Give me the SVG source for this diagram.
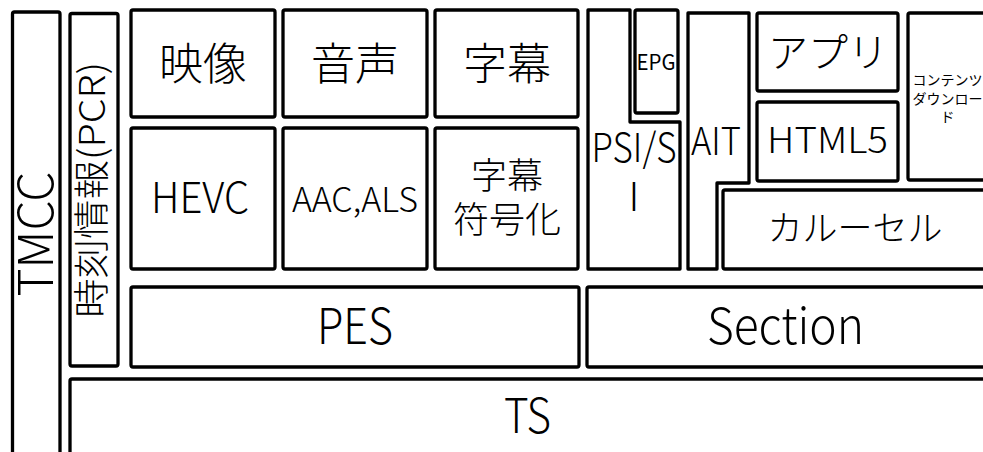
<svg xmlns="http://www.w3.org/2000/svg" width="983" height="452" viewBox="0 0 983 452">
<style>
.b{fill:#fff;stroke:#000;stroke-width:3.3;stroke-linejoin:round}
text{font-family:"Noto Sans CJK JP","Liberation Sans",sans-serif;font-weight:300;fill:#000;text-anchor:middle}
.s{font-weight:400}
</style>
<rect width="983" height="452" fill="#fff"/>
<g id="tmcc"><rect class="b" x="12.5" y="12" width="47.5" height="460" rx="2"/>
<text transform="translate(53,234) rotate(-90)" font-size="48" textLength="125" lengthAdjust="spacingAndGlyphs">TMCC</text></g>
<g id="pcr"><rect class="b" x="70" y="13.5" width="48" height="352.5" rx="2"/>
<text transform="translate(105,190) rotate(-90)" font-size="36" textLength="256" lengthAdjust="spacingAndGlyphs">時刻情報(PCR)</text></g>
<g id="eizo"><rect class="b" x="131" y="10" width="144" height="107" rx="2"/>
<text x="203" y="80" font-size="44">映像</text></g>
<g id="onsei"><rect class="b" x="283" y="10" width="144" height="107" rx="2"/>
<text x="355" y="80" font-size="44">音声</text></g>
<g id="jimaku"><rect class="b" x="435" y="10" width="143" height="107" rx="2"/>
<text x="507" y="80" font-size="44">字幕</text></g>
<g id="hevc"><rect class="b" x="131" y="128" width="144" height="141" rx="2"/>
<text x="200" y="213" font-size="42" textLength="98" lengthAdjust="spacingAndGlyphs">HEVC</text></g>
<g id="aac"><rect class="b" x="283" y="128" width="144" height="141" rx="2"/>
<text x="355" y="212" font-size="34" textLength="126" lengthAdjust="spacingAndGlyphs">AAC,ALS</text></g>
<g id="jimakufugo"><rect class="b" x="435" y="128" width="143" height="141" rx="2"/>
<text x="507" y="189" font-size="36">字幕</text>
<text x="507" y="233" font-size="36">符号化</text></g>
<g id="psisi"><path class="b" d="M588,10 H630 V122 H680 V269 H588 Z"/>
<text x="634" y="162" font-size="40" textLength="85" lengthAdjust="spacingAndGlyphs">PSI/S</text>
<text x="634" y="211" font-size="40">I</text></g>
<g id="epg"><rect class="b" x="635" y="10" width="43" height="103" rx="2"/>
<text class="s" x="656" y="70" font-size="21" textLength="39" lengthAdjust="spacingAndGlyphs">EPG</text></g>
<g id="ait"><path class="b" d="M688,13 H749 V183 H717 V269 H688 Z"/>
<text x="716" y="155" font-size="38" textLength="50" lengthAdjust="spacingAndGlyphs">AIT</text></g>
<g id="appli"><rect class="b" x="757" y="13" width="141" height="78" rx="2"/>
<text x="828" y="67" font-size="40">アプリ</text></g>
<g id="html5"><rect class="b" x="757" y="102" width="141" height="79" rx="2"/>
<text x="827.5" y="153" font-size="36" textLength="121" lengthAdjust="spacingAndGlyphs">HTML5</text></g>
<g id="download"><rect class="b" x="908" y="13" width="79" height="167" rx="2"/>
<text class="s" x="947.5" y="85" font-size="14">コンテンツ</text>
<text class="s" x="947.5" y="104" font-size="14">ダウンロー</text>
<text class="s" x="947.5" y="122" font-size="14">ド</text></g>
<g id="carousel"><rect class="b" x="723" y="190" width="264" height="79" rx="2"/>
<text x="855" y="241" font-size="35">カルーセル</text></g>
<g id="pes"><rect class="b" x="131" y="287" width="448" height="80" rx="2"/>
<text x="355" y="344" font-size="50" textLength="76" lengthAdjust="spacingAndGlyphs">PES</text></g>
<g id="section"><rect class="b" x="587" y="287" width="400" height="80" rx="2"/>
<text x="785.5" y="344" font-size="50" textLength="157" lengthAdjust="spacingAndGlyphs">Section</text></g>
<g id="ts"><rect class="b" x="70" y="379" width="917" height="100" rx="2"/>
<text x="527.5" y="433" font-size="48" textLength="47" lengthAdjust="spacingAndGlyphs">TS</text></g>
<g id="connectors"></g>
</svg>
